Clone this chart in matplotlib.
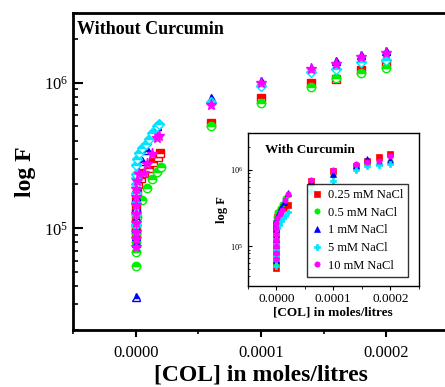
import numpy as np
import matplotlib
matplotlib.use('Agg')
import matplotlib.pyplot as plt
from matplotlib.ticker import MultipleLocator, LogLocator, NullFormatter

plt.rcParams['font.family'] = ['Liberation Serif', 'DejaVu Serif']
plt.rcParams['mathtext.default'] = 'regular'

# concentrations at the high end, shared by all series
x_high = [6e-5, 1e-4, 1.4e-4, 1.6e-4, 1.8e-4, 2e-4]

labels = ['0.25 mM NaCl', '0.5 mM NaCl', '1 mM NaCl', '5 mM NaCl', '10 mM NaCl']
colors = ['#ff0000', '#00ee00', '#0000ff', '#00e5ff', '#ff00ff']

# ---- without curcumin (main panel) ----
m_red_x = [0, 0, 0, 0, 0, 0, 1e-6, 2e-6, 4e-6, 7e-6, 1.05e-5, 1.4e-5, 1.8e-5, 1.95e-5]
m_red_y = [9.3e4, 1.0e5, 1.1e5, 1.25e5, 1.4e5, 1.55e5, 1.75e5, 2.0e5, 2.2e5, 2.4e5, 2.6e5, 2.85e5, 3.1e5, 3.3e5]
m_red_hi = [5.3e5, 7.8e5, 9.9e5, 1.06e6, 1.23e6, 1.36e6]

m_green_x = [0, 0, 0, 0, 0, 1e-6, 5e-6, 9e-6, 1.3e-5, 1.7e-5, 2e-5]
m_green_y = [5.5e4, 6.9e4, 8.0e4, 9.3e4, 1.05e5, 1.2e5, 1.56e5, 1.9e5, 2.19e5, 2.43e5, 2.65e5]
m_green_hi = [5.0e5, 7.3e5, 9.3e5, 1.07e6, 1.17e6, 1.27e6]

m_blue_x = [0, 0, 0, 0, 0, 0, 0, 0, 1e-6, 2.5e-6, 5e-6, 9e-6, 1.7e-5]
m_blue_y = [3.4e4, 7.9e4, 8.9e4, 1.0e5, 1.18e5, 1.4e5, 1.65e5, 1.9e5, 2.15e5, 2.4e5, 2.9e5, 3.45e5, 5.0e5]
m_blue_hi = [7.8e5, 1.03e6, 1.27e6, 1.40e6, 1.55e6, 1.66e6]

m_cyan_x = [0, 0, 0, 0, 0, 0, 0, 0, 1e-6, 2.5e-6, 5e-6, 8e-6, 1.05e-5, 1.3e-5, 1.7e-5, 1.85e-5]
m_cyan_y = [1.05e5, 1.25e5, 1.5e5, 1.75e5, 2.0e5, 2.2e5, 2.36e5, 2.7e5, 3.0e5, 3.3e5, 3.58e5, 3.8e5, 4.1e5, 4.5e5, 5.0e5, 5.2e5]
m_cyan_hi = [7.4e5, 9.5e5, 1.18e6, 1.24e6, 1.38e6, 1.42e6]

m_mag_x = [0, 0, 0, 0, 0, 0, 0, 0, 1e-6, 2.5e-6, 6.5e-6, 9e-6, 1.3e-5, 1.7e-5, 1.85e-5]
m_mag_y = [7.5e4, 8.4e4, 9.5e4, 1.08e5, 1.25e5, 1.45e5, 1.65e5, 1.86e5, 2.1e5, 2.36e5, 2.4e5, 2.76e5, 3.24e5, 4.2e5, 4.3e5]
m_mag_hi = [7.0e5, 1.0e6, 1.25e6, 1.35e6, 1.51e6, 1.60e6]

# ---- with curcumin (inset) ----
i_red_x = [0, 0, 0, 0, 0, 0, 0, 0, 0, 0, 2e-6, 6e-6, 1.4e-5, 2e-5]
i_red_y = [5.2e4, 6.0e4, 7.0e4, 8.0e4, 9.5e4, 1.1e5, 1.3e5, 1.5e5, 1.7e5, 2.0e5, 2.4e5, 2.8e5, 3.1e5, 3.4e5]
i_red_hi = [7.0e5, 9.7e5, 1.13e6, 1.30e6, 1.48e6, 1.62e6]

i_green_x = [0, 0, 0, 0, 0, 0, 0, 0, 2e-6, 6e-6, 1e-5, 1.6e-5, 2e-5]
i_green_y = [6.0e4, 8.0e4, 1.0e5, 1.25e5, 1.5e5, 1.8e5, 2.1e5, 2.4e5, 2.8e5, 3.1e5, 3.6e5, 4.2e5, 4.6e5]
i_green_hi = [6.5e5, 8.6e5, 1.07e6, 1.20e6, 1.21e6, 1.30e6]

i_blue_x = [0, 0, 0, 0, 0, 0, 0, 0, 3e-6, 8e-6, 1.4e-5, 2e-5]
i_blue_y = [6.5e4, 8.0e4, 9.5e4, 1.15e5, 1.35e5, 1.6e5, 1.9e5, 2.2e5, 2.6e5, 3.2e5, 3.8e5, 5.0e5]
i_blue_hi = [6.8e5, 8.8e5, 1.13e6, 1.38e6, 1.27e6, 1.34e6]

i_cyan_x = [0, 0, 0, 0, 0, 0, 0, 2e-6, 4e-6, 8e-6, 1.2e-5, 1.6e-5, 2e-5]
i_cyan_y = [5.5e4, 6.5e4, 7.5e4, 9.0e4, 1.05e5, 1.25e5, 1.45e5, 1.7e5, 1.9e5, 2.1e5, 2.3e5, 2.5e5, 2.8e5]
i_cyan_hi = [5.2e5, 7.0e5, 9.8e5, 1.10e6, 1.16e6, 1.20e6]

i_mag_x = [0, 0, 0, 0, 0, 0, 0, 2e-6, 6e-6, 1e-5, 1.6e-5, 2e-5]
i_mag_y = [6.8e4, 8.0e4, 1.0e5, 1.2e5, 1.45e5, 1.7e5, 2.0e5, 2.3e5, 2.6e5, 3.0e5, 4.0e5, 4.8e5]
i_mag_hi = [7.35e5, 9.9e5, 1.19e6, 1.24e6, 1.31e6, 1.52e6]

main_series = [(m_red_x, m_red_y, m_red_hi), (m_green_x, m_green_y, m_green_hi),
               (m_blue_x, m_blue_y, m_blue_hi), (m_cyan_x, m_cyan_y, m_cyan_hi),
               (m_mag_x, m_mag_y, m_mag_hi)]
inset_series = [(i_red_x, i_red_y, i_red_hi), (i_green_x, i_green_y, i_green_hi),
                (i_blue_x, i_blue_y, i_blue_hi), (i_cyan_x, i_cyan_y, i_cyan_hi),
                (i_mag_x, i_mag_y, i_mag_hi)]

main_markers = ['s', 'o', '^', 'D', '*']
main_sizes = [6, 6, 6, 5.5, 8]
inset_markers = ['s', 'o', '^', 'P', 'o']

fig = plt.figure(figsize=(4.45, 3.87), dpi=100)
ax = fig.add_axes([0.164, 0.147, 0.845, 0.819])

for (xs, ys, hi), c, mk, ms in zip(main_series, colors, main_markers, main_sizes):
    ax.plot(list(xs) + x_high, list(ys) + hi, ls='none', marker=mk, ms=ms,
            color=c, mec=c, mfc=c, fillstyle='top', markerfacecoloralt='white', mew=1.0)

ax.set_yscale('log')
ax.set_xlim(-5e-5, 2.5e-4)
ax.set_ylim(2e4, 3e6)
ax.xaxis.set_major_locator(MultipleLocator(1e-4))
ax.xaxis.set_minor_locator(MultipleLocator(5e-5))
ax.xaxis.set_major_formatter(plt.FuncFormatter(lambda v, p: '%.4f' % v))
ax.yaxis.set_major_locator(LogLocator(base=10, numticks=10))
ax.yaxis.set_minor_locator(LogLocator(base=10, subs=np.arange(2, 10), numticks=20))
ax.yaxis.set_minor_formatter(NullFormatter())
for s in ax.spines.values():
    s.set_linewidth(2)
ax.tick_params(axis='x', which='major', direction='out', length=5, width=1.5, labelsize=12, pad=6)
ax.tick_params(axis='x', which='minor', direction='out', length=3, width=1.2)
ax.tick_params(axis='y', which='major', direction='in', length=7, width=1.5, labelsize=12)
ax.tick_params(axis='y', which='minor', direction='in', length=3.5, width=1.2)
ax.set_xlabel('[COL] in moles/litres', fontsize=17, fontweight='bold', labelpad=2)
ax.set_ylabel('log F', fontsize=17, fontweight='bold', labelpad=6)
ax.text(0.01, 0.975, 'Without Curcumin', transform=ax.transAxes, fontsize=13,
        fontweight='bold', ha='left', va='top')

# inset
ins = fig.add_axes([0.557, 0.261, 0.384, 0.395])
handles = []
for (xs, ys, hi), c, mk, lab in zip(inset_series, colors, inset_markers, labels):
    h, = ins.plot(list(xs) + x_high, list(ys) + hi, ls='none', marker=mk, ms=3.8,
                  color=c, mec=c, mfc=c, mew=0.5, label=lab)
    handles.append(h)
ins.set_yscale('log')
ins.set_xlim(-5e-5, 2.5e-4)
ins.set_ylim(3e4, 3e6)
ins.xaxis.set_major_locator(MultipleLocator(1e-4))
ins.xaxis.set_minor_locator(MultipleLocator(5e-5))
ins.xaxis.set_major_formatter(plt.FuncFormatter(lambda v, p: '%.4f' % v))
ins.yaxis.set_minor_formatter(NullFormatter())
for s in ins.spines.values():
    s.set_linewidth(1)
ins.tick_params(axis='x', which='major', direction='out', length=3, width=0.8, labelsize=9.5, pad=2)
ins.tick_params(axis='x', which='minor', direction='out', length=2, width=0.6)
ins.tick_params(axis='y', which='major', direction='in', length=3, width=0.8, labelsize=6)
ins.tick_params(axis='y', which='minor', direction='in', length=1.5, width=0.6)
ins.set_xlabel('[COL] in moles/litres', fontsize=9.5, fontweight='bold', labelpad=1)
ins.set_ylabel('log F', fontsize=9, fontweight='bold', labelpad=1)
ins.text(0.1, 0.93, 'With Curcumin', transform=ins.transAxes, fontsize=9.5,
         fontweight='bold', ha='left', va='top')
leg = ins.legend(handles=handles, loc='lower right', bbox_to_anchor=(0.975, 0.02),
                 fontsize=9, frameon=True, fancybox=False, edgecolor='black',
                 handlelength=0.8, handletextpad=0.5, labelspacing=0.45,
                 borderpad=0.4, markerscale=1.0)
leg.get_frame().set_linewidth(1)

fig.savefig('out.png', dpi=100)
